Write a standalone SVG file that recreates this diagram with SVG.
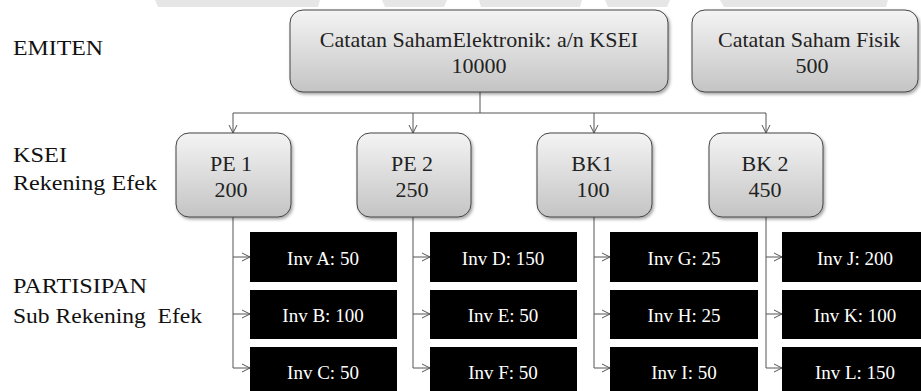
<svg xmlns="http://www.w3.org/2000/svg" width="921" height="391" viewBox="0 0 921 391">
<defs>
<linearGradient id="g" x1="0" y1="0" x2="0" y2="1">
<stop offset="0" stop-color="#f4f4f4"/>
<stop offset="1" stop-color="#c4c4c4"/>
</linearGradient>
<marker id="ah" markerWidth="10" markerHeight="10" refX="9" refY="5" orient="auto" markerUnits="userSpaceOnUse">
<path d="M1,1 L9,5 L1,9" fill="none" stroke="#555" stroke-width="1"/>
</marker>
<filter id="sh" x="-10%" y="-10%" width="130%" height="130%">
<feDropShadow dx="1.5" dy="2" stdDeviation="1.5" flood-color="#000" flood-opacity="0.35"/>
</filter>
</defs>
<style>
.box{fill:url(#g);stroke:#444;stroke-width:1;filter:url(#sh)}
.inv{fill:#000}
text{font-family:'Liberation Serif','DejaVu Serif',serif}
.t{font-size:22px;fill:#222;text-anchor:middle}
.lbl{font-size:22px;fill:#111}
.w{font-size:19px;fill:#fff;text-anchor:middle}
.c{fill:none;stroke:#555;stroke-width:1}
.wm{fill:#e6e6e6}
</style>
<rect width="921" height="391" fill="#fff"/>
<g id="watermark">
<polygon class="wm" points="155,0 320,0 318,7 158,7"/>
<polygon class="wm" points="382,0 447,0 444,7 385,7"/>
<polygon class="wm" points="479,0 582,0 580,7 481,7"/>
<polygon class="wm" points="605,0 670,0 667,7 608,7"/>
<polygon class="wm" points="720,0 888,0 886,7 724,7"/>
</g>
<g id="labels">
<text class="lbl" x="13" y="55" textLength="90" lengthAdjust="spacingAndGlyphs">EMITEN</text>
<text class="lbl" x="13" y="162" textLength="54" lengthAdjust="spacingAndGlyphs">KSEI</text>
<text class="lbl" x="13" y="190" textLength="144" lengthAdjust="spacingAndGlyphs">Rekening Efek</text>
<text class="lbl" x="13" y="293" textLength="134" lengthAdjust="spacingAndGlyphs">PARTISIPAN</text>
<text class="lbl" x="13" y="323" textLength="189" lengthAdjust="spacingAndGlyphs" xml:space="preserve">Sub Rekening  Efek</text>
</g>
<g id="connectors">
<path class="c" d="M480,92 V113"/>
<path class="c" d="M233,113 H766"/>
<path class="c" d="M233,113 V133" marker-end="url(#ah)"/>
<path class="c" d="M413,113 V133" marker-end="url(#ah)"/>
<path class="c" d="M594,113 V133" marker-end="url(#ah)"/>
<path class="c" d="M766,113 V133" marker-end="url(#ah)"/>
<path class="c" d="M233,217 V368"/>
<path class="c" d="M413,217 V368"/>
<path class="c" d="M594,217 V368"/>
<path class="c" d="M766,217 V368"/>
<path class="c" d="M233,257 H250" marker-end="url(#ah)"/>
<path class="c" d="M233,314 H250" marker-end="url(#ah)"/>
<path class="c" d="M233,368 H250" marker-end="url(#ah)"/>
<path class="c" d="M413,257 H430" marker-end="url(#ah)"/>
<path class="c" d="M413,314 H430" marker-end="url(#ah)"/>
<path class="c" d="M413,368 H430" marker-end="url(#ah)"/>
<path class="c" d="M594,257 H610" marker-end="url(#ah)"/>
<path class="c" d="M594,314 H610" marker-end="url(#ah)"/>
<path class="c" d="M594,368 H610" marker-end="url(#ah)"/>
<path class="c" d="M766,257 H782" marker-end="url(#ah)"/>
<path class="c" d="M766,314 H782" marker-end="url(#ah)"/>
<path class="c" d="M766,368 H782" marker-end="url(#ah)"/>
</g>
<g id="emiten-ksei">
<rect class="box" x="290" y="10" width="378" height="82" rx="13"/>
<text class="t" x="479" y="47">Catatan SahamElektronik: a/n KSEI</text>
<text class="t" x="479" y="73">10000</text>
</g>
<g id="emiten-fisik">
<rect class="box" x="692" y="10" width="226" height="82" rx="13"/>
<text class="t" x="809" y="47">Catatan Saham Fisik</text>
<text class="t" x="812" y="73">500</text>
</g>
<g id="pe1">
<rect class="box" x="176" y="133" width="115" height="84" rx="13"/>
<text class="t" x="231" y="171">PE 1</text>
<text class="t" x="231" y="197">200</text>
</g>
<g id="pe2">
<rect class="box" x="357" y="133" width="114" height="84" rx="13"/>
<text class="t" x="412" y="171">PE 2</text>
<text class="t" x="412" y="197">250</text>
</g>
<g id="bk1">
<rect class="box" x="537" y="133" width="115" height="84" rx="13"/>
<text class="t" x="592" y="171">BK1</text>
<text class="t" x="593" y="197">100</text>
</g>
<g id="bk2">
<rect class="box" x="709" y="133" width="114" height="84" rx="13"/>
<text class="t" x="765" y="171">BK 2</text>
<text class="t" x="765" y="197">450</text>
</g>
<g id="invA"><rect class="inv" x="250" y="232" width="147" height="50"/><text class="w" x="323" y="265">Inv A: 50</text></g>
<g id="invB"><rect class="inv" x="250" y="290" width="147" height="49"/><text class="w" x="323" y="322">Inv B: 100</text></g>
<g id="invC"><rect class="inv" x="250" y="347" width="147" height="44"/><text class="w" x="323" y="379">Inv C: 50</text></g>
<g id="invD"><rect class="inv" x="430" y="232" width="147" height="50"/><text class="w" x="503" y="265">Inv D: 150</text></g>
<g id="invE"><rect class="inv" x="430" y="290" width="147" height="49"/><text class="w" x="503" y="322">Inv E: 50</text></g>
<g id="invF"><rect class="inv" x="430" y="347" width="147" height="44"/><text class="w" x="503" y="379">Inv F: 50</text></g>
<g id="invG"><rect class="inv" x="610" y="232" width="148" height="50"/><text class="w" x="684" y="265">Inv G: 25</text></g>
<g id="invH"><rect class="inv" x="610" y="290" width="148" height="49"/><text class="w" x="684" y="322">Inv H: 25</text></g>
<g id="invI"><rect class="inv" x="610" y="347" width="148" height="44"/><text class="w" x="684" y="379">Inv I: 50</text></g>
<g id="invJ"><rect class="inv" x="782" y="232" width="139" height="50"/><text class="w" x="855" y="265">Inv J: 200</text></g>
<g id="invK"><rect class="inv" x="782" y="290" width="139" height="49"/><text class="w" x="855" y="322">Inv K: 100</text></g>
<g id="invL"><rect class="inv" x="782" y="347" width="139" height="44"/><text class="w" x="855" y="379">Inv L: 150</text></g>
</svg>
